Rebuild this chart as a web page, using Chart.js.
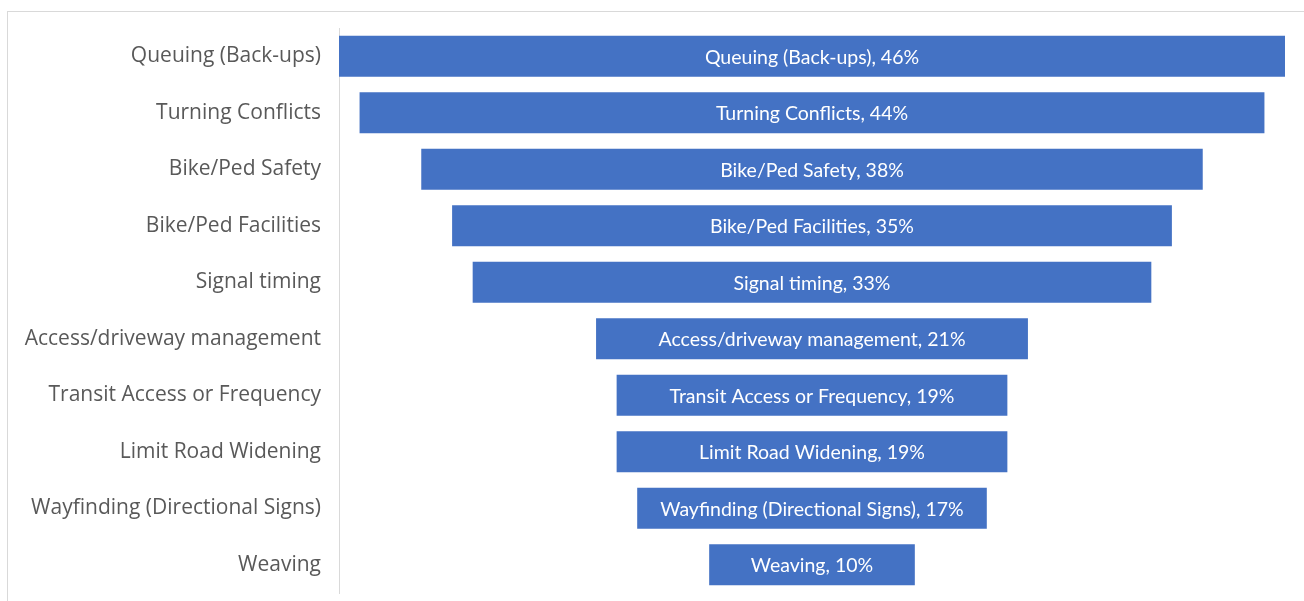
<!DOCTYPE html>
<html>
<head>
<meta charset="utf-8">
<script src="https://cdn.jsdelivr.net/npm/chart.js@4.4.1/dist/chart.umd.min.js"></script>
<style>
  html, body { margin: 0; padding: 0; background: #ffffff; }
  #wrap { position: relative; width: 1304px; height: 601px; overflow: hidden; }
  #frame { position: absolute; left: 7px; top: 11px; width: 1320px; height: 620px;
           border-left: 1px solid #d9d9d9; border-top: 1px solid #d9d9d9; box-sizing: border-box; }
  #c { position: absolute; left: 0; top: 0; }
</style>
</head>
<body>
<div id="wrap">
  <div id="frame"></div>
  <canvas id="c" width="1304" height="601"></canvas>
</div>
<script>
// Funnel categories, top to bottom
const categories = [
  'Queuing (Back-ups)',
  'Turning Conflicts',
  'Bike/Ped Safety',
  'Bike/Ped Facilities',
  'Signal timing',
  'Access/driveway management',
  'Transit Access or Frequency',
  'Limit Road Widening',
  'Wayfinding (Directional Signs)',
  'Weaving'
];
// Share of responses, percent
const percentValues = [46, 44, 38, 35, 33, 21, 19, 19, 17, 10];

// Centered floating bars make the funnel shape
const funnelData = percentValues.map(v => [-v / 2, v / 2]);
const halfSpan = Math.max(...percentValues) / 2;

const barLabels = {
  id: 'barLabels',
  afterDatasetsDraw(chart) {
    const ctx = chart.ctx;
    const meta = chart.getDatasetMeta(0);
    ctx.save();
    ctx.fillStyle = '#ffffff';
    ctx.font = '19.5px Lato, "Open Sans", sans-serif';
    ctx.textAlign = 'center';
    ctx.textBaseline = 'middle';
    meta.data.forEach((bar, i) => {
      const cx = (bar.x + bar.base) / 2;
      ctx.fillText(categories[i] + ', ' + percentValues[i] + '%', cx, bar.y + 1);
    });
    ctx.restore();
  }
};

new Chart(document.getElementById('c'), {
  type: 'bar',
  data: {
    labels: categories,
    datasets: [{
      data: funnelData,
      backgroundColor: '#4472c4',
      borderWidth: 0,
      categoryPercentage: 1.0,
      barPercentage: 0.73
    }]
  },
  options: {
    indexAxis: 'y',
    responsive: false,
    animation: false,
    layout: { padding: { left: 0, right: 19, top: 28, bottom: 8 } },
    plugins: { legend: { display: false }, tooltip: { enabled: false } },
    scales: {
      x: { display: false, min: -halfSpan, max: halfSpan },
      y: {
        grid: { display: false, drawTicks: false },
        border: { display: true, color: '#d9d9d9', width: 1 },
        ticks: {
          color: '#595959',
          padding: 18,
          font: { family: '"Open Sans", Lato, sans-serif', size: 21 }
        },
        afterFit(scale) {
          scale.width = 339;
          scale.paddingTop = 0;
          scale.paddingBottom = 0;
        }
      }
    }
  },
  plugins: [barLabels]
});
</script>
</body>
</html>
